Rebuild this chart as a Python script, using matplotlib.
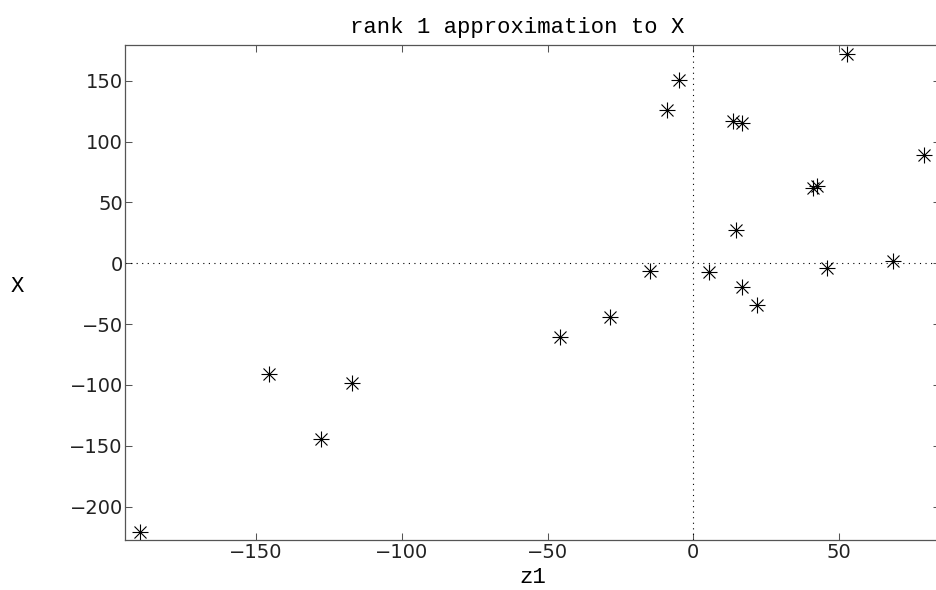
import numpy as np
import matplotlib.pyplot as plt

# points
z1 = [-189.7, -145.5, -127.7, -117.2, -45.7, -28.6, -14.9, -8.9, -4.8, 5.3,
      13.5, 16.7, 14.5, 16.6, 21.7, 41.1, 42.3, 46.0, 52.6, 68.5, 79.2]
X = [-220.5, -91.0, -144.1, -98.1, -60.3, -44.1, -6.1, 126.0, 150.6, -7.3,
     116.9, 114.9, 27.4, -19.2, -34.3, 62.1, 63.5, -3.9, 172.0, 2.1, 88.7]

xticks = [-150, -100, -50, 0, 50]
yticks = [-200, -150, -100, -50, 0, 50, 100, 150]

fs = 14
mono = 'Liberation Mono'

fig = plt.figure(figsize=(9.36, 5.90), dpi=100)
ax = fig.add_axes([125/936, 1 - 540.3/590, (940 - 125)/936, (540.3 - 44.7)/590])

ax.axhline(0, color='black', lw=0.8, ls=(0, (1, 4)))
ax.axvline(0, color='black', lw=0.8, ls=(0, (1, 4)))

# matlab style asterisk = plus + cross
ax.plot(z1, X, ls='none', marker='+', ms=11.5, mew=0.8, color='black')
ax.plot(z1, X, ls='none', marker='x', ms=8.5, mew=0.8, color='black')

ax.set_xlim(-194.9, 84.6)
ax.set_ylim(-227.6, 179.6)
ax.set_xticks(xticks)
ax.set_yticks(yticks)
ax.set_xticklabels([str(t).replace('-', '\u2212') for t in xticks])
ax.set_yticklabels([str(t).replace('-', '\u2212') for t in yticks])

ax.tick_params(direction='in', length=5, width=0.75, color='#555555',
               labelsize=fs, labelcolor='#222222', top=True, right=True)
ax.tick_params(axis='x', pad=2)
ax.tick_params(axis='y', pad=1.5)
for s in ax.spines.values():
    s.set_color('#555555')
    s.set_linewidth(0.9)

ax.set_xlabel('z1', fontsize=16, family=mono, labelpad=3.5)
ax.set_ylabel('X', fontsize=16, family=mono, rotation=0, ha='center', va='center')
ax.yaxis.set_label_coords(-0.1325, 0.512)

fig.text(517/936, 1 - 33/590, 'rank 1 approximation to X', fontsize=16,
         family=mono, ha='center', va='baseline')

plt.savefig('out.png', dpi=100)
